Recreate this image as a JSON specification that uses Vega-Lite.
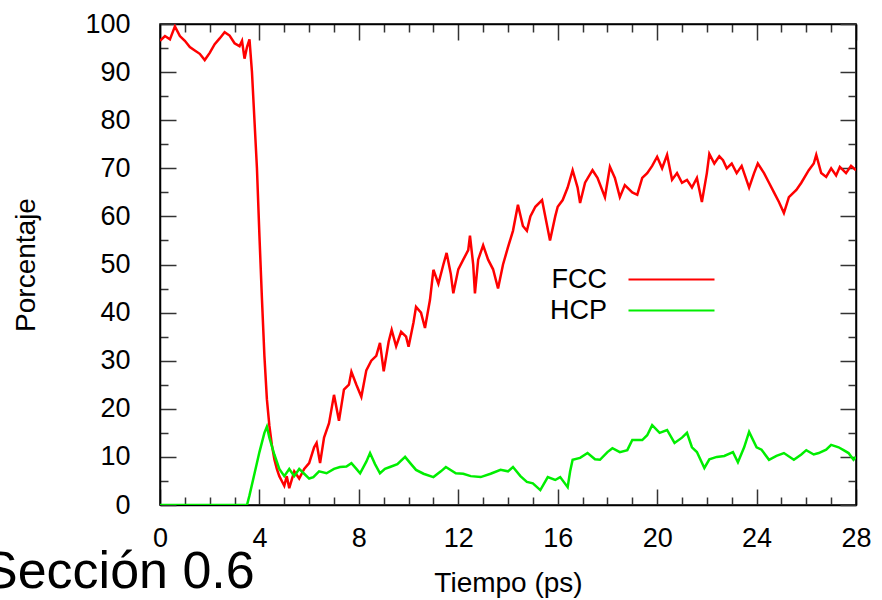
{
  "$schema": "https://vega.github.io/schema/vega-lite/v6.json",
  "width": 696,
  "height": 481,
  "autosize": {"type": "none"},
  "padding": {"left": 160, "top": 24, "right": 26, "bottom": 95},
  "background": "white",
  "config": {
    "font": "Liberation Sans",
    "view": {"stroke": "black", "strokeWidth": 1.5},
    "axis": {"labelColor": "black", "titleColor": "black", "labelFont": "Liberation Sans", "titleFont": "Liberation Sans", "titleFontWeight": "normal", "domainColor": "black", "tickColor": "#333333", "grid": false, "tickWidth": 1.5, "domainWidth": 1.5}
  },
  "title": {"text": "Sección 0.6", "orient": "bottom", "anchor": "start", "frame": "group", "fontSize": 52, "fontWeight": "normal", "font": "Liberation Sans", "color": "black", "dx": -177, "dy": -13, "baseline": "alphabetic"},
  "data": {"values": [
    {"t":0.0,"pct":96.5,"phase":"FCC"},{"t":0.2,"pct":97.5,"phase":"FCC"},{"t":0.4,"pct":96.8,"phase":"FCC"},{"t":0.6,"pct":99.5,"phase":"FCC"},{"t":0.8,"pct":97.5,"phase":"FCC"},{"t":1.0,"pct":96.5,"phase":"FCC"},{"t":1.2,"pct":95.2,"phase":"FCC"},{"t":1.4,"pct":94.5,"phase":"FCC"},{"t":1.6,"pct":93.8,"phase":"FCC"},{"t":1.8,"pct":92.5,"phase":"FCC"},{"t":2.0,"pct":94.0,"phase":"FCC"},{"t":2.2,"pct":95.8,"phase":"FCC"},{"t":2.4,"pct":97.0,"phase":"FCC"},{"t":2.6,"pct":98.3,"phase":"FCC"},{"t":2.8,"pct":97.6,"phase":"FCC"},{"t":3.0,"pct":96.0,"phase":"FCC"},{"t":3.2,"pct":95.4,"phase":"FCC"},{"t":3.3,"pct":96.5,"phase":"FCC"},{"t":3.4,"pct":92.8,"phase":"FCC"},{"t":3.5,"pct":95.2,"phase":"FCC"},{"t":3.6,"pct":96.8,"phase":"FCC"},{"t":3.7,"pct":90.0,"phase":"FCC"},{"t":3.8,"pct":80,"phase":"FCC"},{"t":3.9,"pct":70,"phase":"FCC"},{"t":4.0,"pct":56,"phase":"FCC"},{"t":4.1,"pct":43,"phase":"FCC"},{"t":4.2,"pct":31,"phase":"FCC"},{"t":4.3,"pct":22,"phase":"FCC"},{"t":4.4,"pct":16.5,"phase":"FCC"},{"t":4.5,"pct":12.5,"phase":"FCC"},{"t":4.6,"pct":9.5,"phase":"FCC"},{"t":4.7,"pct":7.5,"phase":"FCC"},{"t":4.8,"pct":6.0,"phase":"FCC"},{"t":4.9,"pct":5.0,"phase":"FCC"},{"t":5.0,"pct":4.0,"phase":"FCC"},{"t":5.1,"pct":6.0,"phase":"FCC"},{"t":5.2,"pct":3.5,"phase":"FCC"},{"t":5.4,"pct":7.0,"phase":"FCC"},{"t":5.6,"pct":5.5,"phase":"FCC"},{"t":5.8,"pct":7.5,"phase":"FCC"},{"t":6.0,"pct":8.7,"phase":"FCC"},{"t":6.2,"pct":12.0,"phase":"FCC"},{"t":6.3,"pct":12.9,"phase":"FCC"},{"t":6.44,"pct":8.7,"phase":"FCC"},{"t":6.6,"pct":14,"phase":"FCC"},{"t":6.8,"pct":17,"phase":"FCC"},{"t":7.0,"pct":22.9,"phase":"FCC"},{"t":7.2,"pct":17.5,"phase":"FCC"},{"t":7.4,"pct":24,"phase":"FCC"},{"t":7.6,"pct":25,"phase":"FCC"},{"t":7.7,"pct":27.7,"phase":"FCC"},{"t":7.9,"pct":25,"phase":"FCC"},{"t":8.1,"pct":22.5,"phase":"FCC"},{"t":8.3,"pct":28,"phase":"FCC"},{"t":8.5,"pct":30,"phase":"FCC"},{"t":8.7,"pct":31,"phase":"FCC"},{"t":8.85,"pct":33.7,"phase":"FCC"},{"t":9.0,"pct":27.8,"phase":"FCC"},{"t":9.2,"pct":34,"phase":"FCC"},{"t":9.32,"pct":36.4,"phase":"FCC"},{"t":9.5,"pct":33,"phase":"FCC"},{"t":9.7,"pct":36,"phase":"FCC"},{"t":9.9,"pct":35,"phase":"FCC"},{"t":10.0,"pct":32.9,"phase":"FCC"},{"t":10.2,"pct":38,"phase":"FCC"},{"t":10.3,"pct":41.2,"phase":"FCC"},{"t":10.5,"pct":40,"phase":"FCC"},{"t":10.66,"pct":36.8,"phase":"FCC"},{"t":10.86,"pct":42.6,"phase":"FCC"},{"t":11.0,"pct":48.9,"phase":"FCC"},{"t":11.2,"pct":46,"phase":"FCC"},{"t":11.4,"pct":50,"phase":"FCC"},{"t":11.53,"pct":52.4,"phase":"FCC"},{"t":11.7,"pct":48,"phase":"FCC"},{"t":11.8,"pct":44,"phase":"FCC"},{"t":12.0,"pct":49,"phase":"FCC"},{"t":12.2,"pct":51,"phase":"FCC"},{"t":12.4,"pct":53,"phase":"FCC"},{"t":12.47,"pct":56,"phase":"FCC"},{"t":12.6,"pct":50,"phase":"FCC"},{"t":12.67,"pct":44,"phase":"FCC"},{"t":12.8,"pct":51,"phase":"FCC"},{"t":13.0,"pct":54,"phase":"FCC"},{"t":13.2,"pct":51,"phase":"FCC"},{"t":13.4,"pct":49,"phase":"FCC"},{"t":13.6,"pct":45,"phase":"FCC"},{"t":13.8,"pct":50,"phase":"FCC"},{"t":14.0,"pct":53.6,"phase":"FCC"},{"t":14.2,"pct":57,"phase":"FCC"},{"t":14.4,"pct":62.4,"phase":"FCC"},{"t":14.6,"pct":58,"phase":"FCC"},{"t":14.76,"pct":57,"phase":"FCC"},{"t":14.9,"pct":60,"phase":"FCC"},{"t":15.1,"pct":62,"phase":"FCC"},{"t":15.37,"pct":63.4,"phase":"FCC"},{"t":15.5,"pct":60,"phase":"FCC"},{"t":15.69,"pct":55,"phase":"FCC"},{"t":15.9,"pct":60,"phase":"FCC"},{"t":16.0,"pct":62,"phase":"FCC"},{"t":16.2,"pct":63.4,"phase":"FCC"},{"t":16.4,"pct":66,"phase":"FCC"},{"t":16.6,"pct":69.6,"phase":"FCC"},{"t":16.8,"pct":66,"phase":"FCC"},{"t":16.9,"pct":62.8,"phase":"FCC"},{"t":17.1,"pct":67,"phase":"FCC"},{"t":17.4,"pct":69.6,"phase":"FCC"},{"t":17.6,"pct":68,"phase":"FCC"},{"t":17.9,"pct":64,"phase":"FCC"},{"t":18.1,"pct":70.3,"phase":"FCC"},{"t":18.3,"pct":68,"phase":"FCC"},{"t":18.5,"pct":64,"phase":"FCC"},{"t":18.7,"pct":66.5,"phase":"FCC"},{"t":19.0,"pct":65,"phase":"FCC"},{"t":19.2,"pct":64.5,"phase":"FCC"},{"t":19.4,"pct":68,"phase":"FCC"},{"t":19.6,"pct":69,"phase":"FCC"},{"t":19.8,"pct":70.5,"phase":"FCC"},{"t":20.0,"pct":72.4,"phase":"FCC"},{"t":20.2,"pct":70,"phase":"FCC"},{"t":20.4,"pct":72.8,"phase":"FCC"},{"t":20.6,"pct":67.6,"phase":"FCC"},{"t":20.8,"pct":69,"phase":"FCC"},{"t":21.0,"pct":67,"phase":"FCC"},{"t":21.2,"pct":67.6,"phase":"FCC"},{"t":21.4,"pct":66,"phase":"FCC"},{"t":21.6,"pct":68,"phase":"FCC"},{"t":21.8,"pct":63,"phase":"FCC"},{"t":22.0,"pct":69,"phase":"FCC"},{"t":22.1,"pct":73,"phase":"FCC"},{"t":22.3,"pct":71,"phase":"FCC"},{"t":22.5,"pct":72.5,"phase":"FCC"},{"t":22.65,"pct":71.7,"phase":"FCC"},{"t":22.8,"pct":70,"phase":"FCC"},{"t":23.0,"pct":71,"phase":"FCC"},{"t":23.2,"pct":69,"phase":"FCC"},{"t":23.4,"pct":70.5,"phase":"FCC"},{"t":23.7,"pct":66,"phase":"FCC"},{"t":23.9,"pct":69,"phase":"FCC"},{"t":24.05,"pct":71,"phase":"FCC"},{"t":24.3,"pct":69,"phase":"FCC"},{"t":24.5,"pct":67,"phase":"FCC"},{"t":24.7,"pct":65,"phase":"FCC"},{"t":24.9,"pct":63,"phase":"FCC"},{"t":25.1,"pct":60.7,"phase":"FCC"},{"t":25.3,"pct":64,"phase":"FCC"},{"t":25.6,"pct":65.5,"phase":"FCC"},{"t":25.8,"pct":67,"phase":"FCC"},{"t":26.1,"pct":69.6,"phase":"FCC"},{"t":26.3,"pct":71,"phase":"FCC"},{"t":26.4,"pct":72.8,"phase":"FCC"},{"t":26.6,"pct":69,"phase":"FCC"},{"t":26.8,"pct":68.2,"phase":"FCC"},{"t":27.0,"pct":70,"phase":"FCC"},{"t":27.2,"pct":68.5,"phase":"FCC"},{"t":27.35,"pct":70.3,"phase":"FCC"},{"t":27.6,"pct":69,"phase":"FCC"},{"t":27.8,"pct":70.5,"phase":"FCC"},{"t":28.0,"pct":69.6,"phase":"FCC"},
    {"t":0,"pct":0,"phase":"HCP"},{"t":3.5,"pct":0,"phase":"HCP"},{"t":3.6,"pct":2,"phase":"HCP"},{"t":3.8,"pct":6.5,"phase":"HCP"},{"t":4.0,"pct":11,"phase":"HCP"},{"t":4.2,"pct":15,"phase":"HCP"},{"t":4.3,"pct":16.3,"phase":"HCP"},{"t":4.4,"pct":14,"phase":"HCP"},{"t":4.6,"pct":10.5,"phase":"HCP"},{"t":4.8,"pct":7.5,"phase":"HCP"},{"t":5.0,"pct":6,"phase":"HCP"},{"t":5.2,"pct":7.5,"phase":"HCP"},{"t":5.4,"pct":6,"phase":"HCP"},{"t":5.6,"pct":7.5,"phase":"HCP"},{"t":5.8,"pct":6.5,"phase":"HCP"},{"t":6.0,"pct":5.5,"phase":"HCP"},{"t":6.17,"pct":5.8,"phase":"HCP"},{"t":6.4,"pct":7,"phase":"HCP"},{"t":6.7,"pct":6.6,"phase":"HCP"},{"t":7.0,"pct":7.5,"phase":"HCP"},{"t":7.24,"pct":7.9,"phase":"HCP"},{"t":7.5,"pct":8,"phase":"HCP"},{"t":7.7,"pct":8.7,"phase":"HCP"},{"t":7.9,"pct":7.5,"phase":"HCP"},{"t":8.05,"pct":6.6,"phase":"HCP"},{"t":8.3,"pct":9,"phase":"HCP"},{"t":8.45,"pct":10.8,"phase":"HCP"},{"t":8.65,"pct":8.5,"phase":"HCP"},{"t":8.85,"pct":6.6,"phase":"HCP"},{"t":9.05,"pct":7.5,"phase":"HCP"},{"t":9.25,"pct":7.9,"phase":"HCP"},{"t":9.55,"pct":8.5,"phase":"HCP"},{"t":9.86,"pct":10,"phase":"HCP"},{"t":10.1,"pct":8.5,"phase":"HCP"},{"t":10.3,"pct":7.3,"phase":"HCP"},{"t":10.6,"pct":6.5,"phase":"HCP"},{"t":11.0,"pct":5.8,"phase":"HCP"},{"t":11.3,"pct":7,"phase":"HCP"},{"t":11.5,"pct":7.9,"phase":"HCP"},{"t":11.9,"pct":6.6,"phase":"HCP"},{"t":12.2,"pct":6.5,"phase":"HCP"},{"t":12.5,"pct":6.0,"phase":"HCP"},{"t":12.9,"pct":5.8,"phase":"HCP"},{"t":13.3,"pct":6.5,"phase":"HCP"},{"t":13.7,"pct":7.3,"phase":"HCP"},{"t":14.0,"pct":7.0,"phase":"HCP"},{"t":14.2,"pct":7.9,"phase":"HCP"},{"t":14.5,"pct":6,"phase":"HCP"},{"t":14.76,"pct":4.8,"phase":"HCP"},{"t":15.0,"pct":4.5,"phase":"HCP"},{"t":15.3,"pct":3.1,"phase":"HCP"},{"t":15.6,"pct":5.8,"phase":"HCP"},{"t":15.9,"pct":5.2,"phase":"HCP"},{"t":16.1,"pct":5.8,"phase":"HCP"},{"t":16.4,"pct":3.7,"phase":"HCP"},{"t":16.5,"pct":7,"phase":"HCP"},{"t":16.6,"pct":9.4,"phase":"HCP"},{"t":16.9,"pct":9.8,"phase":"HCP"},{"t":17.2,"pct":10.8,"phase":"HCP"},{"t":17.5,"pct":9.5,"phase":"HCP"},{"t":17.7,"pct":9.4,"phase":"HCP"},{"t":18.0,"pct":11,"phase":"HCP"},{"t":18.2,"pct":11.8,"phase":"HCP"},{"t":18.5,"pct":11,"phase":"HCP"},{"t":18.8,"pct":11.4,"phase":"HCP"},{"t":19.0,"pct":13.5,"phase":"HCP"},{"t":19.4,"pct":13.5,"phase":"HCP"},{"t":19.6,"pct":14.5,"phase":"HCP"},{"t":19.8,"pct":16.6,"phase":"HCP"},{"t":20.1,"pct":15,"phase":"HCP"},{"t":20.4,"pct":15.6,"phase":"HCP"},{"t":20.7,"pct":12.9,"phase":"HCP"},{"t":21.0,"pct":14,"phase":"HCP"},{"t":21.2,"pct":15,"phase":"HCP"},{"t":21.4,"pct":12,"phase":"HCP"},{"t":21.6,"pct":11,"phase":"HCP"},{"t":21.9,"pct":7.7,"phase":"HCP"},{"t":22.1,"pct":9.5,"phase":"HCP"},{"t":22.4,"pct":10,"phase":"HCP"},{"t":22.7,"pct":10.2,"phase":"HCP"},{"t":23.05,"pct":11,"phase":"HCP"},{"t":23.25,"pct":8.9,"phase":"HCP"},{"t":23.5,"pct":12,"phase":"HCP"},{"t":23.7,"pct":15.2,"phase":"HCP"},{"t":24.0,"pct":12,"phase":"HCP"},{"t":24.2,"pct":11.5,"phase":"HCP"},{"t":24.5,"pct":9.4,"phase":"HCP"},{"t":24.8,"pct":10.2,"phase":"HCP"},{"t":25.1,"pct":10.8,"phase":"HCP"},{"t":25.5,"pct":9.4,"phase":"HCP"},{"t":25.8,"pct":10.5,"phase":"HCP"},{"t":26.0,"pct":11.4,"phase":"HCP"},{"t":26.3,"pct":10.5,"phase":"HCP"},{"t":26.5,"pct":10.8,"phase":"HCP"},{"t":26.8,"pct":11.5,"phase":"HCP"},{"t":27.0,"pct":12.5,"phase":"HCP"},{"t":27.3,"pct":12,"phase":"HCP"},{"t":27.5,"pct":11.4,"phase":"HCP"},{"t":27.7,"pct":10.8,"phase":"HCP"},{"t":27.9,"pct":9.4,"phase":"HCP"},{"t":28,"pct":10,"phase":"HCP"}
  ]},
  "layer": [
    {
      "mark": {"type": "line", "strokeWidth": 2.5, "clip": true},
      "encoding": {
        "x": {"field": "t", "type": "quantitative", "scale": {"domain": [0, 28], "nice": false, "zero": false},
          "axis": {"orient": "bottom", "title": "Tiempo (ps)", "titleFontSize": 28, "titlePadding": 10,
            "values": [0,1,2,3,4,5,6,7,8,9,10,11,12,13,14,15,16,17,18,19,20,21,22,23,24,25,26,27,28],
            "labelExpr": "datum.value % 4 === 0 ? datum.label : ''",
            "labelFontSize": 27, "labelPadding": 36, "labelFlush": false, "labelOverlap": false,
            "tickSize": {"condition": {"test": "datum.value % 4 === 0", "value": -16}, "value": -8}}},
        "y": {"field": "pct", "type": "quantitative", "scale": {"domain": [0, 100], "nice": false},
          "axis": {"orient": "left", "title": "Porcentaje", "titleFontSize": 28, "titlePadding": 44,
            "values": [0,5,10,15,20,25,30,35,40,45,50,55,60,65,70,75,80,85,90,95,100],
            "labelExpr": "datum.value % 10 === 0 ? datum.label : ''",
            "labelFontSize": 27, "labelPadding": 46, "labelOverlap": false, "labelFlush": false,
            "tickSize": {"condition": {"test": "datum.value % 10 === 0", "value": -16}, "value": -8}}},
        "color": {"field": "phase", "type": "nominal",
          "scale": {"domain": ["FCC", "HCP"], "range": ["#ff0000", "#00ee00"]},
          "legend": {"orient": "none", "legendX": 496, "legendY": 240, "title": null, "padding": 0,
            "symbolType": "M-3,0H3", "symbolSize": 822, "symbolStrokeWidth": 2,
            "labelFontSize": 27, "labelColor": "black", "labelAlign": "right", "labelOffset": -80,
            "rowPadding": 2, "labelFont": "Liberation Sans"}}
      }
    },
    {
      "mark": {"type": "line", "opacity": 0},
      "encoding": {
        "x": {"field": "t", "type": "quantitative",
          "axis": {"orient": "top", "title": null, "labels": false,
            "values": [0,1,2,3,4,5,6,7,8,9,10,11,12,13,14,15,16,17,18,19,20,21,22,23,24,25,26,27,28],
            "tickSize": {"condition": {"test": "datum.value % 4 === 0", "value": -16}, "value": -8}}},
        "y": {"field": "pct", "type": "quantitative",
          "axis": {"orient": "right", "title": null, "labels": false,
            "values": [0,5,10,15,20,25,30,35,40,45,50,55,60,65,70,75,80,85,90,95,100],
            "tickSize": {"condition": {"test": "datum.value % 10 === 0", "value": -16}, "value": -8}}},
        "detail": {"field": "phase", "type": "nominal"}
      }
    }
  ],
  "resolve": {"axis": {"x": "independent", "y": "independent"}}
}
